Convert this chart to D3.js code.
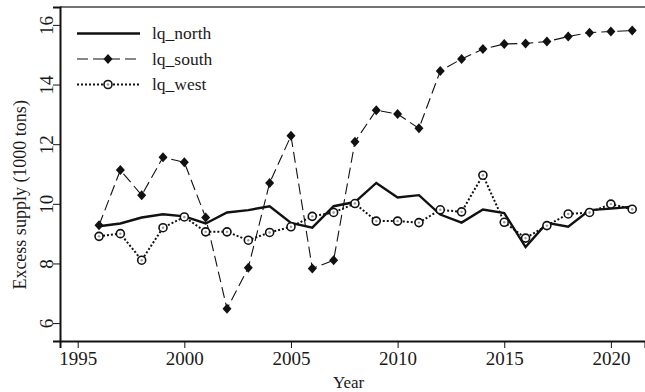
<!DOCTYPE html>
<html>
<head>
<meta charset="utf-8">
<script src="https://cdn.jsdelivr.net/npm/d3@7"></script>
<style>
  body { margin: 0; background: #fff; }
  svg { display: block; font-family: "Liberation Serif", "Times New Roman", serif; }
</style>
</head>
<body>
<div id="container"></div>
<script>
var width = 645,
    height = 392;

// data
var years = [1996, 1997, 1998, 1999, 2000, 2001, 2002, 2003, 2004, 2005, 2006, 2007, 2008,
             2009, 2010, 2011, 2012, 2013, 2014, 2015, 2016, 2017, 2018, 2019, 2020, 2021];
var north = [9.25, 9.34, 9.54, 9.65, 9.58, 9.34, 9.71, 9.79, 9.92, 9.36, 9.20, 9.92, 10.06,
             10.70, 10.21, 10.29, 9.64, 9.37, 9.81, 9.69, 8.55, 9.36, 9.23, 9.79, 9.84, 9.90];
var south = [9.28, 11.13, 10.29, 11.56, 11.39, 9.54, 6.48, 7.86, 10.70, 12.28, 7.83, 8.11, 12.08,
             13.14, 13.01, 12.53, 14.45, 14.86, 15.19, 15.36, 15.38, 15.44, 15.61, 15.74, 15.78, 15.81];
var west = [8.91, 9.00, 8.11, 9.20, 9.56, 9.06, 9.06, 8.78, 9.04, 9.23, 9.58, 9.71, 10.01,
            9.42, 9.42, 9.37, 9.80, 9.73, 10.96, 9.38, 8.85, 9.27, 9.66, 9.71, 9.99, 9.82];
var xTicks = [1995, 2000, 2005, 2010, 2015, 2020];
var yTicks = [6, 8, 10, 12, 14, 16];
var seriesNames = ["lq_north", "lq_south", "lq_west"];

var margin = {left: 60, top: 7, right: 0, bottom: 51};

var svg = d3.select('#container').append('svg')
    .attr("width", width)
    .attr("height", height);

var x = d3.scaleLinear()
    .domain([1994.17, 2021.6])
    .range([margin.left, width - margin.right]);

var y = d3.scaleLinear()
    .domain([5.4, 16.6])
    .range([height - margin.bottom, margin.top]);

var ink = "#111";

// frame: left, top, bottom
svg.append("line")
    .attr("x1", margin.left).attr("x2", width)
    .attr("y1", margin.top).attr("y2", margin.top)
    .style("stroke", "#444").style("stroke-width", 1.5);

var xAxis = svg.append("g")
    .attr("transform", "translate(0," + (height - margin.bottom) + ")")
    .call(d3.axisBottom(x).tickValues(xTicks).tickFormat(d3.format("d")).tickSize(7).tickPadding(4));

var yAxis = svg.append("g")
    .attr("transform", "translate(" + margin.left + ",0)")
    .call(d3.axisLeft(y).tickValues(yTicks).tickSize(7).tickPadding(6));

[xAxis, yAxis].forEach(function(g) {
  g.select(".domain").style("stroke", ink).style("stroke-width", 2);
  g.selectAll(".tick line").style("stroke", ink).style("stroke-width", 1);
  g.selectAll("text")
    .style("font-family", "'Liberation Serif', serif")
    .style("font-size", "19px")
    .style("fill", "#1a1a1a");
});

// y tick labels read bottom to top
yAxis.selectAll(".tick text")
    .attr("x", null).attr("dy", null)
    .attr("text-anchor", "middle")
    .attr("transform", "translate(-14,0) rotate(-90)")
    .attr("dy", "0.35em");

svg.append("text")
    .attr("transform", "translate(26," + y(10.3) + ") rotate(-90)")
    .attr("text-anchor", "middle")
    .style("font-size", "18px")
    .style("fill", "#1a1a1a")
    .text("Excess supply (1000 tons)");

svg.append("text")
    .attr("x", x(2007.7))
    .attr("y", 388)
    .attr("text-anchor", "middle")
    .style("font-size", "17px")
    .style("fill", "#1a1a1a")
    .text("Year");

function pts(vals) {
  return vals.map(function(v, i) { return [years[i], v]; });
}

var line = d3.line()
    .x(function(d) { return x(d[0]); })
    .y(function(d) { return y(d[1]); });

var styles = [
  {dash: null, width: 2.4},
  {dash: "11,5", width: 1.1},
  {dash: "2,2", width: 2}
];

var diamond = "M0,-5L4.5,0L0,5L-4.5,0Z";

function drawMarker(g, kind) {
  if (kind === 1) {
    g.append("path").attr("d", diamond).style("fill", ink);
  } else if (kind === 2) {
    g.append("circle").attr("r", 4).style("fill", "#fff").style("stroke", ink).style("stroke-width", 1.6);
    g.append("circle").attr("r", 1.2).style("fill", "#999");
  }
}

[north, south, west].forEach(function(vals, k) {
  svg.append("path")
    .datum(pts(vals))
    .attr("d", line)
    .style("fill", "none")
    .style("stroke", ink)
    .style("stroke-width", styles[k].width)
    .style("stroke-dasharray", styles[k].dash);
});

[south, west].forEach(function(vals, k) {
  svg.selectAll(".m" + k)
    .data(pts(vals))
    .enter()
    .append("g")
    .attr("class", "m" + k)
    .attr("transform", function(d) { return "translate(" + x(d[0]) + "," + y(d[1]) + ")"; })
    .each(function() { drawMarker(d3.select(this), k + 1); });
});

// legend
var legend = svg.append("g");
seriesNames.forEach(function(name, k) {
  var ly = 33.5 + k * 25.5;
  legend.append("line")
    .attr("x1", 77).attr("x2", 140)
    .attr("y1", ly).attr("y2", ly)
    .style("stroke", ink)
    .style("stroke-width", styles[k].width)
    .style("stroke-dasharray", styles[k].dash);
  var m = legend.append("g").attr("transform", "translate(108," + ly + ")");
  drawMarker(m, k);
  legend.append("text")
    .attr("x", 152)
    .attr("y", ly)
    .attr("dy", "0.32em")
    .style("font-size", "17.5px")
    .style("fill", "#1a1a1a")
    .text(name);
});
</script>
</body>
</html>
